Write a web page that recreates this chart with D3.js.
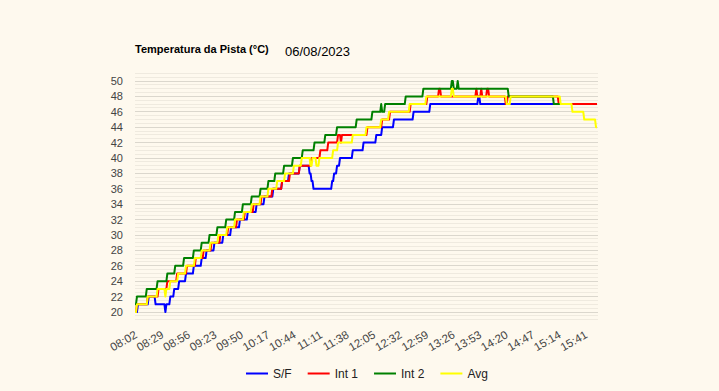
<!DOCTYPE html>
<meta charset="utf-8">
<style>
body {
  margin: 0;
  background-color: #fef9ee;
}
svg {
  display: block;
  font-family: Arial, "Liberation Sans", sans-serif;
}
.grid-minor {
  stroke: #efeadf;
  stroke-width: 1px;
  shape-rendering: crispEdges;
}
.grid-major {
  stroke: #dbd7cd;
  stroke-width: 1px;
  shape-rendering: crispEdges;
}
.axis text {
  fill: #444;
  font-size: 11px;
}
.series {
  fill: none;
  stroke-width: 2px;
  stroke-linejoin: round;
}
.legend text {
  fill: #222;
  font-size: 12px;
}
</style>
<body>
<svg width="719" height="391"></svg>

<script src="https://cdn.jsdelivr.net/npm/d3@7"></script>
<script>

// readings: time where the value changes, and the new value (held until the next change)
var startTime = "08:02", endTime = "15:53";

var xLabels = ["08:02","08:29","08:56","09:23","09:50","10:17","10:44","11:11","11:38",
  "12:05","12:32","12:59","13:26","13:53","14:20","14:47","15:14","15:41"];
var yTicks = [20,22,24,26,28,30,32,34,36,38,40,42,44,46,48,50];

var sfTimes = ["08:02","08:05","08:16","08:23","08:33","08:34","08:38","08:42","08:47","08:54",
  "09:02","09:10","09:15","09:23","09:32","09:40","09:49","09:57","10:06","10:14",
  "10:23","10:32","10:39","10:50","11:00","11:02","11:04","11:23","11:25","11:28",
  "11:31","11:44","11:55","12:08","12:14","12:26","12:46","13:03","13:52","13:54","15:53"];
var sfTemps = [20,21,22,21,20,21,22,23,24,25,
  26,27,28,29,30,31,32,33,34,35,
  36,37,38,39,38,37,36,37,38,39,
  40,41,42,43,44,45,46,47,48,47,47];

var int1Times = ["08:02","08:04","08:15","08:26","08:35","08:45","08:55","09:04","09:12","09:20",
  "09:29","09:37","09:46","09:54","10:03","10:11","10:22","10:32","10:40","10:50",
  "11:02","11:11","11:19","11:29","11:32","11:33","11:59","12:14","12:22","12:43",
  "13:00","13:12","13:14","13:50","13:51","13:55","13:56","14:01","14:03","14:20",
  "14:22","15:14","15:53"];
var int1Temps = [20,21,22,23,24,25,26,27,28,29,
  30,31,32,33,34,35,36,37,38,39,
  40,41,42,43,42,43,44,45,46,47,
  48,49,48,49,48,49,48,49,48,47,
  48,47,47];

var int2Times = ["08:02","08:04","08:14","08:25","08:35","08:43","08:52","09:02","09:10","09:18",
  "09:26","09:35","09:44","09:52","10:01","10:10","10:18","10:25","10:34","10:43",
  "10:53","11:05","11:16","11:28","11:48","12:04","12:13","12:14","12:17","12:38",
  "12:56","13:25","13:27","13:31","13:32","14:23","15:09","15:18"];
var int2Temps = [21,22,23,24,25,26,27,28,29,30,
  31,32,33,34,35,36,37,38,39,40,
  41,42,43,44,45,46,47,46,47,48,
  49,50,49,50,49,48,47,47];

var avgTimes = ["08:02","08:04","08:15","08:25","08:33","08:34","08:38","08:46","08:54","09:03",
  "09:10","09:19","09:27","09:36","09:44","09:53","10:01","10:10","10:18","10:27",
  "10:35","10:44","10:52","11:01","11:03","11:07","11:10","11:24","11:29","11:44",
  "11:58","12:13","12:21","12:42","12:59","13:25","13:27","14:21","14:25","15:16",
  "15:28","15:40","15:52","15:53"];
var avgTemps = [20,21,22,23,22,23,24,25,26,27,
  28,29,30,31,32,33,34,35,36,37,
  38,39,40,39,40,39,40,41,42,43,
  44,45,46,47,48,49,48,47,48,47,
  46,45,44,44];

var seriesNames = ["S/F", "Int 1", "Int 2", "Avg"];
var seriesColors = ["#0000ff", "#ff0000", "#008000", "#ffff00"];

var svg = d3.select("svg");

function toMin(s) {
  var p = s.split(":");
  return (+p[0]) * 60 + (+p[1]);
}

// each reading holds until one minute before the next change
function stepPoints(times, temps) {
  var pts = [];
  for (var i = 0; i < times.length; i++) {
    var t = toMin(times[i]);
    pts.push([t, temps[i]]);
    if (i < times.length - 1) {
      var tn = toMin(times[i + 1]);
      if (tn - 1 > t) pts.push([tn - 1, temps[i]]);
    }
  }
  return pts;
}

var x = d3.scaleLinear().domain([toMin(startTime), toMin(endTime)]).range([135, 597]);
var y = d3.scaleLinear().domain([19, 51]).range([319.7, 73.3]);

// gridlines
var minor = d3.range(19, 51.01, 0.5).filter(function(v) { return yTicks.indexOf(v) < 0; });

svg.append("g").selectAll("line").data(minor)
  .enter().append("line")
  .attr("class", "grid-minor")
  .attr("x1", 135).attr("x2", 598)
  .attr("y1", function(d) { return y(d); })
  .attr("y2", function(d) { return y(d); });

svg.append("g").selectAll("line").data(yTicks)
  .enter().append("line")
  .attr("class", "grid-major")
  .attr("x1", 135).attr("x2", 598)
  .attr("y1", function(d) { return y(d); })
  .attr("y2", function(d) { return y(d); });

// y axis labels
var yAxis = d3.axisLeft(y).tickValues(yTicks).tickSize(0).tickPadding(3);
var gY = svg.append("g")
  .attr("class", "axis")
  .attr("transform", "translate(126,0)")
  .call(yAxis);
gY.select(".domain").remove();
gY.selectAll("text").attr("font-family", null).attr("font-size", null);

// x axis labels, slanted
svg.append("g").attr("class", "axis")
  .selectAll("text").data(xLabels)
  .enter().append("text")
  .attr("text-anchor", "end")
  .style("font-size", "11.5px")
  .attr("transform", function(d) {
    return "translate(" + (x(toMin(d)) + 3) + ",337) rotate(-30)";
  })
  .text(function(d) { return d; });

// lines
var line = d3.line()
  .x(function(d) { return x(d[0]); })
  .y(function(d) { return y(d[1]); });

var seriesData = [
  stepPoints(sfTimes, sfTemps),
  stepPoints(int1Times, int1Temps),
  stepPoints(int2Times, int2Temps),
  stepPoints(avgTimes, avgTemps)
];

svg.append("g").selectAll("path").data(seriesData)
  .enter().append("path")
  .attr("class", "series")
  .attr("stroke", function(d, i) { return seriesColors[i]; })
  .attr("d", line);

// title
svg.append("text")
  .attr("x", 135).attr("y", 53)
  .style("font-size", "11px")
  .style("font-weight", "bold")
  .attr("fill", "#000")
  .text("Temperatura da Pista (°C)");

svg.append("text")
  .attr("x", 285).attr("y", 56)
  .style("font-size", "13px")
  .attr("fill", "#000")
  .text("06/08/2023");

// legend
var legend = svg.append("g").attr("class", "legend");
var lx = 246;
seriesNames.forEach(function(name, i) {
  legend.append("line")
    .attr("x1", lx).attr("x2", lx + 22)
    .attr("y1", 373.5).attr("y2", 373.5)
    .attr("stroke", seriesColors[i])
    .attr("stroke-width", 2);
  var t = legend.append("text")
    .attr("x", lx + 27).attr("y", 378)
    .text(name);
  lx = lx + 27 + t.node().getComputedTextLength() + 16;
});

</script>
</body>
